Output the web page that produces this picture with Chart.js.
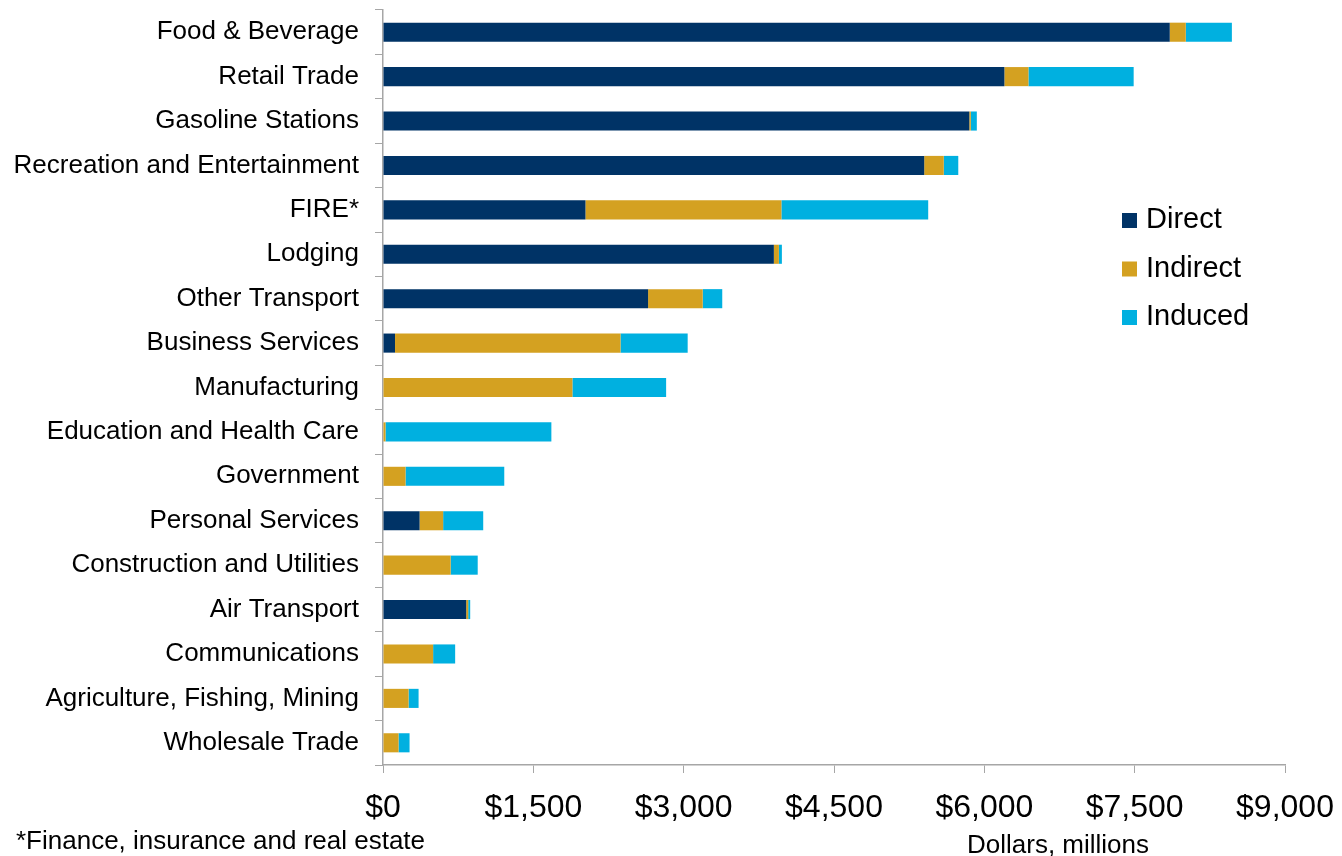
<!DOCTYPE html>
<html>
<head>
<meta charset="utf-8">
<script src="https://cdn.jsdelivr.net/npm/chart.js@4"></script>
<style>
  body { margin: 0; background: #fff; }
  canvas { display: block; }
</style>
</head>
<body>
<canvas id="impactChart" width="1342" height="856"></canvas>
<script>
const categories = [
    'Food & Beverage', 'Retail Trade', 'Gasoline Stations', 'Recreation and Entertainment',
    'FIRE*', 'Lodging', 'Other Transport', 'Business Services', 'Manufacturing',
    'Education and Health Care', 'Government', 'Personal Services',
    'Construction and Utilities', 'Air Transport', 'Communications',
    'Agriculture, Fishing, Mining', 'Wholesale Trade'
];
const direct   = [7850, 6200, 5850, 5400, 2020, 3900, 2645, 120, 0, 0, 0, 365, 0, 830, 0, 0, 0];
const indirect = [160, 240, 15, 195, 1955, 50, 545, 2250, 1890, 25, 225, 235, 675, 20, 500, 255, 155];
const induced  = [460, 1050, 60, 145, 1465, 30, 195, 670, 935, 1655, 985, 400, 270, 20, 220, 100, 110];
const xTicks = [0, 1500, 3000, 4500, 6000, 7500, 9000];

const FONT = '"Liberation Sans", Arial, sans-serif';
const axisGray = '#a6a6a6';

// legend + footnotes drawn by hand
const extras = {
    id: 'extras',
    afterDraw(chart) {
        const ctx = chart.ctx;
        ctx.save();
        ctx.textBaseline = 'middle';
        ctx.textAlign = 'left';
        ctx.font = '29px ' + FONT;
        chart.data.datasets.forEach((ds, i) => {
            const y = 220 + i * 48.5;
            ctx.fillStyle = ds.backgroundColor;
            ctx.fillRect(1122, y - 7, 15, 15);
            ctx.fillStyle = '#000';
            ctx.fillText(ds.label, 1146, y);
        });
        ctx.font = '26px ' + FONT;
        ctx.fillText('*Finance, insurance and real estate', 16, 842);
        ctx.textAlign = 'center';
        ctx.fillText('Dollars, millions', 1058, 846);
        ctx.restore();
    }
};

const ctx = document.getElementById('impactChart').getContext('2d');
new Chart(ctx, {
    type: 'bar',
    data: {
        labels: categories,
        datasets: [
            { label: 'Direct', data: direct, backgroundColor: '#003366' },
            { label: 'Indirect', data: indirect, backgroundColor: '#D4A121' },
            { label: 'Induced', data: induced, backgroundColor: '#00B0E0' }
        ]
    },
    options: {
        indexAxis: 'y',
        responsive: false,
        animation: false,
        categoryPercentage: 0.43,
        barPercentage: 1,
        layout: { padding: { top: 10, right: 57, left: 0, bottom: 0 } },
        plugins: {
            legend: { display: false },
            tooltip: { enabled: false }
        },
        scales: {
            x: {
                stacked: true,
                min: 0,
                max: 9000,
                afterBuildTicks: (scale) => { scale.ticks = xTicks.map(v => ({ value: v })); },
                afterFit: (scale) => {
                    scale.height = 91;
                    scale.paddingLeft = 0;
                    scale.paddingRight = 0;
                },
                ticks: {
                    color: '#000',
                    font: { family: FONT, size: 32 },
                    padding: 16,
                    maxRotation: 0,
                    callback: (v) => '$' + v.toLocaleString('en-US')
                },
                grid: { drawOnChartArea: false, drawTicks: true, tickLength: 8, color: axisGray },
                border: { color: axisGray, width: 1.5 }
            },
            y: {
                stacked: true,
                afterFit: (scale) => {
                    scale.width = 383;
                    scale.paddingTop = 0;
                    scale.paddingBottom = 0;
                },
                ticks: {
                    color: '#000',
                    font: { family: FONT, size: 26 },
                    padding: 16,
                    autoSkip: false
                },
                grid: { drawOnChartArea: false, drawTicks: true, tickLength: 8, color: axisGray, offset: true },
                border: { color: axisGray, width: 1.5 }
            }
        }
    },
    plugins: [extras]
});
</script>
</body>
</html>
